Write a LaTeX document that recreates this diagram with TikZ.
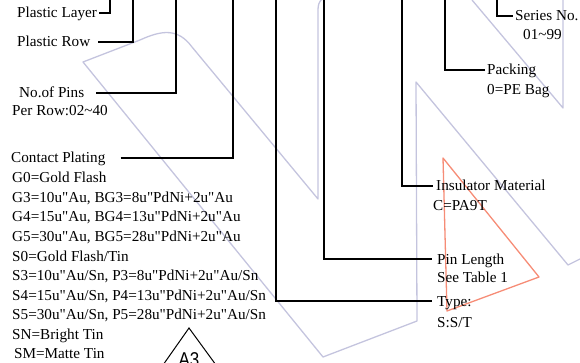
\documentclass[tikz,border=0pt]{standalone}
\usepackage{fontspec}
\setmainfont{Liberation Serif}[Ligatures=TeXOff]
\newfontfamily\athreefont{Liberation Sans}
\definecolor{lavender}{RGB}{196,196,222}
\definecolor{salmon}{RGB}{246,140,118}
\begin{document}
\begin{tikzpicture}[x=1pt,y=-1pt,
  lbl/.style={font=\fontsize{15.2}{18}\selectfont, inner sep=0pt, anchor=west, text height=12pt, text depth=2pt},
  conn/.style={draw=black, line width=1.1pt},
  ghost/.style={draw=lavender, line width=1.3pt, line join=round},
  coral/.style={draw=salmon, line width=1.3pt, line join=round}]
\begin{scope}
\clip (0,0) rectangle (580,363);
% watermark-like shapes
\draw[ghost] (322,-1) .. controls (319,2) and (318,5) .. (318,10) -- (318,199) -- (192,47)
  .. controls (178,28) and (162,30) .. (140,40) -- (83,62) -- (323,357) -- (417,321) -- (416,82) -- (568,265) -- (590,254);
\draw[ghost] (472,0) -- (563,108) -- (563,-2);
\draw[coral] (443,158) -- (539,277) -- (447,311) -- cycle;
% A3 mark
\draw[line width=1pt] (163,365) -- (189,328) -- (216,365);
\node[inner sep=0pt, anchor=base, font=\athreefont\fontsize{20}{20}\selectfont, xscale=0.85] (a3) at (189,366) {A3};
% top coordinates
\coordinate (t1) at (110,0);
\coordinate (t2) at (133,0);
\coordinate (t3) at (176,0);
\coordinate (t4) at (233,0);
\coordinate (t5) at (276,0);
\coordinate (t6) at (324,0);
\coordinate (t7) at (402,0);
\coordinate (t8) at (445,0);
\coordinate (t9) at (497,0);
% left labels
\node[lbl] (pl) at (17,13) {Plastic Layer};
\node[lbl] (pr) at (17,42) {Plastic Row};
\node[lbl] (np1) at (19,93) {No.of Pins};
\node[lbl] (np2) at (12,111) {Per Row:02\textasciitilde40};
\node[lbl] (cp0) at (11,158) {Contact Plating};
\node[lbl] (cp1) at (12,177.6) {G0=Gold Flash};
\node[lbl] (cp2) at (12,197.2) {G3=10u"Au, BG3=8u"PdNi+2u"Au};
\node[lbl] (cp3) at (12,216.8) {G4=15u"Au, BG4=13u"PdNi+2u"Au};
\node[lbl] (cp4) at (12,236.4) {G5=30u"Au, BG5=28u"PdNi+2u"Au};
\node[lbl] (cp5) at (12,256) {S0=Gold Flash/Tin};
\node[lbl] (cp6) at (12,275.6) {S3=10u"Au/Sn, P3=8u"PdNi+2u"Au/Sn};
\node[lbl] (cp7) at (12,295.2) {S4=15u"Au/Sn, P4=13u"PdNi+2u"Au/Sn};
\node[lbl] (cp8) at (12,314.8) {S5=30u"Au/Sn, P5=28u"PdNi+2u"Au/Sn};
\node[lbl] (cp9) at (12,334.4) {SN=Bright Tin};
\node[lbl] (cp10) at (14,353) {SM=Matte Tin};
% right labels
\node[lbl] (sn1) at (515,16) {Series No.};
\node[lbl] (sn2) at (523,35) {01\textasciitilde99};
\node[lbl] (pk1) at (487,70) {Packing};
\node[lbl] (pk2) at (487,90) {0=PE Bag};
\node[lbl] (im1) at (436,186) {Insulator Material};
\node[lbl] (im2) at (433,206) {C=PA9T};
\node[lbl] (pn1) at (437,259) {Pin Length};
\node[lbl] (pn2) at (437,277) {See Table 1};
\node[lbl] (ty1) at (437,301) {Type:};
\node[lbl] (ty2) at (437,322) {S:S/T};
% connectors
\draw[conn] ([xshift=2pt]pl.east) -| (t1);
\draw[conn] ([xshift=8pt]pr.east) -| (t2);
\draw[conn] ([xshift=12pt]np1.east) -| (t3);
\draw[conn] ([xshift=15pt]cp0.east) -| (t4);
\draw[conn] (t5) |- ([xshift=-5pt]ty1.west);
\draw[conn] (t6) |- ([xshift=-5pt]pn1.west);
\draw[conn] (t7) |- ([xshift=-3pt]im1.west);
\draw[conn] (t8) |- ([xshift=-2pt]pk1.west);
\draw[conn] (t9) |- ([xshift=-2pt]sn1.west);
\end{scope}
\pgfresetboundingbox
\useasboundingbox (0,0) rectangle (580,363);
\end{tikzpicture}
\end{document}
